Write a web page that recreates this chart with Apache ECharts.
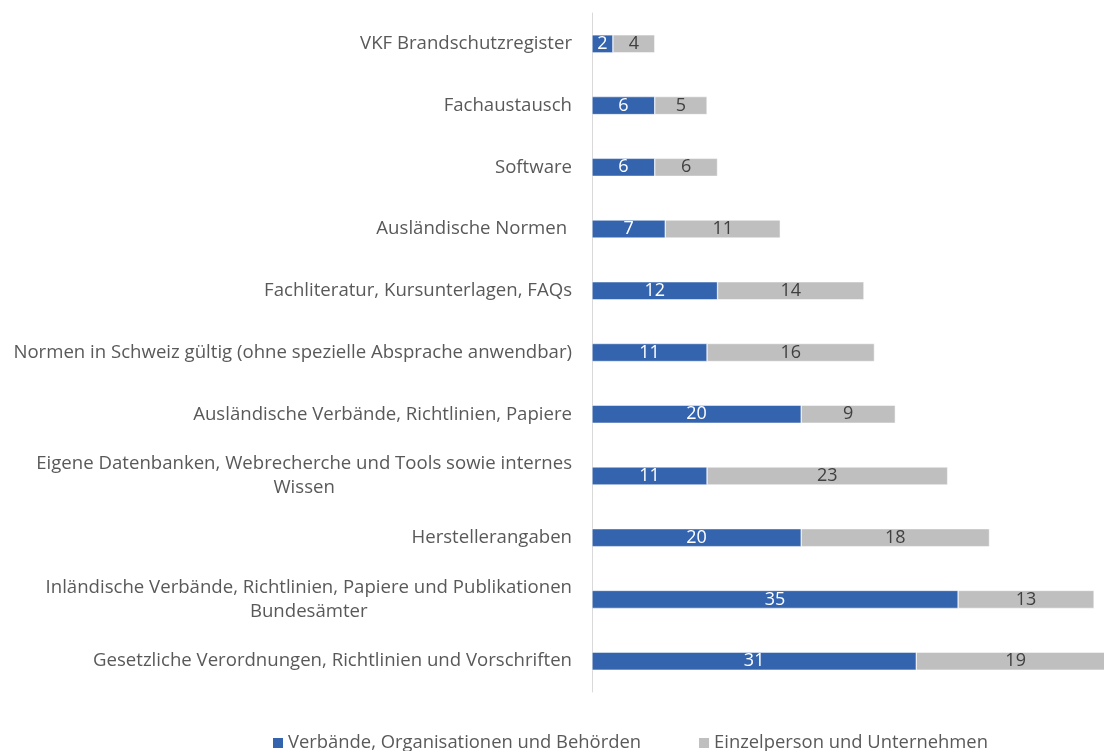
<!DOCTYPE html>
<html><head><meta charset="utf-8">
<script src="https://cdn.jsdelivr.net/npm/echarts@6/dist/echarts.min.js"></script>
<style>html,body{margin:0;padding:0;background:#fff}#c{width:1104px;height:751px}</style>
</head><body><div id="c"></div>
<script>
const categories = [
  "Gesetzliche Verordnungen, Richtlinien und Vorschriften",
  "Inländische Verbände, Richtlinien, Papiere und Publikationen\nBundesämter",
  "Herstellerangaben",
  "Eigene Datenbanken, Webrecherche und Tools sowie internes\nWissen",
  "Ausländische Verbände, Richtlinien, Papiere",
  "Normen in Schweiz gültig (ohne spezielle Absprache anwendbar)",
  "Fachliteratur, Kursunterlagen, FAQs",
  "Ausländische Normen ",
  "Software",
  "Fachaustausch",
  "VKF Brandschutzregister"
];
const verbaende = [31, 35, 20, 11, 20, 11, 12, 7, 6, 6, 2];
const einzel = [19, 13, 18, 23, 9, 16, 14, 11, 6, 5, 4];
const seriesNames = ["Verbände, Organisationen und Behörden", "Einzelperson und Unternehmen"];

const FONT = "Open Sans";
const chart = echarts.init(document.getElementById('c'), null, {renderer: 'canvas'});
chart.setOption({
  animation: false,
  textStyle: {fontFamily: FONT},
  grid: {left: 592, width: 523, top: 13, bottom: 59, containLabel: false, outerBoundsMode: 'none'},
  xAxis: {type: 'value', min: 0, max: 50, show: false},
  yAxis: {
    type: 'category', data: categories,
    axisLine: {show: true, lineStyle: {color: '#d9d9d9', width: 1}},
    axisTick: {show: false},
    axisLabel: {
      margin: 20, color: '#595959', fontSize: 18.6, fontFamily: FONT, lineHeight: 24,
      formatter: v => v.split('\n').map(s => '{c|' + s + '}').join('\n'),
      rich: {c: {align: 'center', color: '#595959', fontSize: 18.6, fontFamily: FONT, lineHeight: 24}}
    }
  },
  legend: {
    bottom: -6, left: 266, itemWidth: 12, itemHeight: 12, itemGap: 56, icon: 'rect',
    textStyle: {color: '#595959', fontSize: 18.4, fontFamily: FONT, padding: [0, 0, 0, -1]},
    data: seriesNames
  },
  series: [
    {name: seriesNames[0], type: 'bar', stack: 's', data: verbaende, barWidth: 18,
     itemStyle: {color: '#3564AE', borderColor: '#fff', borderWidth: 0.5},
     label: {show: true, position: 'inside', color: '#fff', fontSize: 18, fontFamily: FONT}},
    {name: seriesNames[1], type: 'bar', stack: 's', data: einzel, barWidth: 18,
     itemStyle: {color: '#BFBFBF', borderColor: '#fff', borderWidth: 0.5},
     label: {show: true, position: 'inside', color: '#404040', fontSize: 18, fontFamily: FONT}}
  ]
});
</script></body></html>
